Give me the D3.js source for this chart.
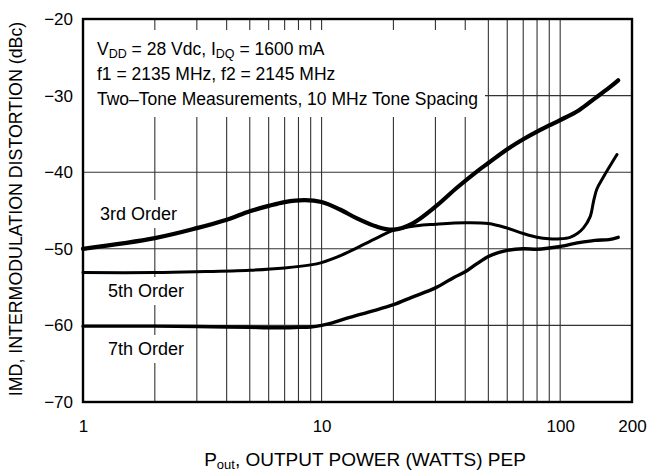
<!DOCTYPE html>
<html>
<head>
<meta charset="utf-8">
<script src="https://cdn.jsdelivr.net/npm/d3@7"></script>
<style>
  html, body { margin: 0; padding: 0; background: #fff; }
  svg { display: block; }
  text { font-family: "Liberation Sans", Arial, Helvetica, sans-serif; fill: #000; }
</style>
</head>
<body>
<svg id="chart" width="648" height="474"></svg>
<script>
// ---------------- data ----------------
const power3 = [1, 2, 3, 4, 5, 6, 7, 8.5, 10, 12, 14, 17, 20, 24, 30, 37, 45, 50, 60, 70, 80, 90, 100, 120, 138, 160, 175];
const imd3   = [-50, -48.6, -47.3, -46.2, -45.1, -44.4, -43.9, -43.65, -43.9, -44.9, -46.0, -47.1, -47.5, -46.7, -44.5, -42.0, -39.85, -38.8, -37.0, -35.7, -34.7, -33.9, -33.2, -31.9, -30.5, -29.0, -28.0];

const power5 = [1, 2, 3, 5, 7, 9, 10, 12, 14, 17, 20, 25, 30, 40, 50, 60, 70, 80, 90, 100, 110, 118, 125, 133.6, 138, 142.5, 152, 173];
const imd5   = [-53.1, -53.1, -53.0, -52.8, -52.5, -52.1, -51.8, -50.9, -49.9, -48.6, -47.6, -47.0, -46.8, -46.6, -46.7, -47.3, -48.0, -48.5, -48.7, -48.7, -48.5, -48.0, -47.3, -45.8, -43.8, -42.2, -40.6, -37.7];

const power7 = [1, 2, 3, 4, 5, 6, 7, 8, 9, 10, 11, 13, 16, 20, 24, 30, 36, 40, 44, 50, 55, 60, 70, 80, 90, 100, 120, 140, 160, 175];
const imd7   = [-60.1, -60.1, -60.15, -60.2, -60.25, -60.3, -60.3, -60.25, -60.2, -60.0, -59.7, -59.0, -58.2, -57.3, -56.3, -55.1, -53.7, -53.0, -52.1, -51.0, -50.5, -50.2, -50.0, -50.05, -49.9, -49.7, -49.2, -48.9, -48.8, -48.5];

const xGridValues = [2, 3, 4, 5, 6, 7, 8, 9, 10, 20, 30, 40, 50, 60, 70, 80, 90, 100];
const yGridValues = [-30, -40, -50, -60];
const xTickValues = [1, 10, 100, 200];
const yTickValues = [-20, -30, -40, -50, -60, -70];
const seriesLabels = ["3rd Order", "5th Order", "7th Order"];

// ---------------- layout ----------------
const W = 648, H = 474;
const m = { left: 83, right: 16, top: 19, bottom: 72 };
const x0 = m.left, x1 = W - m.right, y0 = m.top, y1 = H - m.bottom;

const svg = d3.select("#chart");
const x = d3.scaleLog().domain([1, 200]).range([x0, x1]);
const y = d3.scaleLinear().domain([-70, -20]).range([y1, y0]);

// grid
const grid = svg.append("g").attr("stroke", "#333").attr("stroke-width", 1.1);
grid.selectAll("line.v").data(xGridValues).join("line")
  .attr("x1", d => x(d)).attr("x2", d => x(d))
  .attr("y1", y0).attr("y2", y1);
grid.selectAll("line.h").data(yGridValues).join("line")
  .attr("x1", x0).attr("x2", x1)
  .attr("y1", d => y(d)).attr("y2", d => y(d));

// annotation block (white background breaking grid)
svg.append("rect").attr("x", x0 + 1).attr("y", 30).attr("width", 485 - x0 - 1).attr("height", 87).attr("fill", "#fff");

const ann = svg.append("g").attr("font-size", 17.5);
const t1 = ann.append("text").attr("x", 97).attr("y", 55);
t1.append("tspan").text("V");
t1.append("tspan").attr("font-size", 12.5).attr("dy", 3).text("DD");
t1.append("tspan").attr("dy", -3).text(" = 28 Vdc, I");
t1.append("tspan").attr("font-size", 12.5).attr("dy", 3).text("DQ");
t1.append("tspan").attr("dy", -3).text(" = 1600 mA");
ann.append("text").attr("x", 97).attr("y", 80).text("f1 = 2135 MHz, f2 = 2145 MHz");
ann.append("text").attr("x", 97).attr("y", 105).text("Two\u2013Tone Measurements, 10 MHz Tone Spacing");

// series labels with white backgrounds
const labelPos = [[100, 220], [108, 297], [108, 355]];
seriesLabels.forEach((s, i) => {
  const g = svg.append("g");
  const bg = g.append("rect").attr("fill", "#fff");
  const t = g.append("text").attr("x", labelPos[i][0]).attr("y", labelPos[i][1]).attr("font-size", 18).text(s);
  const b = t.node().getBBox();
  bg.attr("x", b.x - 3).attr("y", b.y - 4).attr("width", b.width + 6).attr("height", b.height + 8);
});

// curves
const line = d3.line().x(d => x(d[0])).y(d => y(d[1])).curve(d3.curveCatmullRom.alpha(0.5));
const series = [
  { p: power3, v: imd3, w: 4.2 },
  { p: power5, v: imd5, w: 3.0 },
  { p: power7, v: imd7, w: 3.4 }
];
series.forEach(s => {
  svg.append("path")
    .datum(s.p.map((p, i) => [p, s.v[i]]))
    .attr("fill", "none").attr("stroke", "#000")
    .attr("stroke-width", s.w).attr("stroke-linejoin", "round").attr("stroke-linecap", "round")
    .attr("d", line);
});

// frame
svg.append("rect").attr("x", x0).attr("y", y0).attr("width", x1 - x0).attr("height", y1 - y0)
  .attr("fill", "none").attr("stroke", "#000").attr("stroke-width", 2.4);

// axes
const xAxis = d3.axisBottom(x).tickValues(xTickValues).tickSize(0).tickPadding(18).tickFormat(d3.format("d"));
const gx = svg.append("g").attr("transform", `translate(0,${y1})`).call(xAxis);
gx.select(".domain").remove();
gx.selectAll("text").attr("font-size", 17).attr("font-family", null);

const yAxis = d3.axisLeft(y).tickValues(yTickValues).tickSize(0).tickPadding(10).tickFormat(d3.format("d"));
const gy = svg.append("g").attr("transform", `translate(${x0},0)`).call(yAxis);
gy.select(".domain").remove();
gy.selectAll("text").attr("font-size", 17).attr("font-family", null);

// axis titles
const xt = svg.append("text").attr("x", 365).attr("y", 466).attr("text-anchor", "middle").attr("font-size", 19);
xt.append("tspan").text("P");
xt.append("tspan").attr("font-size", 13).attr("dy", 3).text("out");
xt.append("tspan").attr("dy", -3).text(", OUTPUT POWER (WATTS) PEP");

svg.append("text").attr("transform", `translate(22,209) rotate(-90)`)
  .attr("text-anchor", "middle").attr("font-size", 17.8)
  .text("IMD, INTERMODULATION DISTORTION (dBc)");
</script>
</body>
</html>
